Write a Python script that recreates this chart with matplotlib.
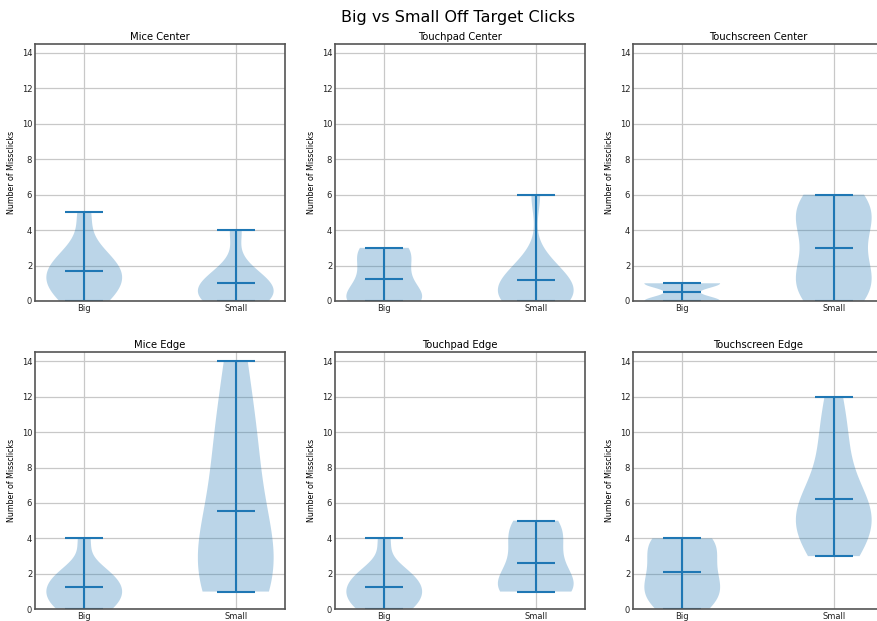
import matplotlib
matplotlib.use("Agg")
import matplotlib.pyplot as plt
import numpy as np

categories = ["Big", "Small"]
titles = ["Mice Center", "Touchpad Center", "Touchscreen Center",
          "Mice Edge", "Touchpad Edge", "Touchscreen Edge"]

mice_center_big = [0, 0, 1, 1, 1, 2, 2, 2, 3, 5]
mice_center_small = [0, 0, 0, 0, 1, 1, 1, 1, 2, 4]
touchpad_center_big = [0, 0, 0, 0, 0, 1, 1, 2, 2, 3, 3, 3]
touchpad_center_small = [0, 0, 0, 0, 0, 1, 1, 1, 1, 2, 2, 6]
touchscreen_center_big = [0] * 8 + [1] * 8
touchscreen_center_small = [0, 0, 1, 1, 2, 2, 4, 4, 5, 5, 6, 6]
mice_edge_big = [0, 0, 0, 1, 1, 1, 1, 2, 2, 2, 4]
mice_edge_small = [1, 1, 2, 3, 4, 6, 9, 10, 14]
touchpad_edge_big = [0, 0, 0, 1, 1, 1, 1, 2, 2, 2, 4]
touchpad_edge_small = [1, 1, 1, 1, 2, 2, 3, 4, 4, 5, 5]
touchscreen_edge_big = [0, 0, 1, 1, 1, 2, 2, 3, 3, 4, 4, 4]
touchscreen_edge_small = [3, 3, 4, 5, 5, 5, 6, 6, 7, 9, 10, 12]

groups = [
    (mice_center_big, mice_center_small),
    (touchpad_center_big, touchpad_center_small),
    (touchscreen_center_big, touchscreen_center_small),
    (mice_edge_big, mice_edge_small),
    (touchpad_edge_big, touchpad_edge_small),
    (touchscreen_edge_big, touchscreen_edge_small),
]

fig = plt.figure(figsize=(8.78, 6.21), dpi=100)
fig.suptitle("Big vs Small Off Target Clicks", fontsize=11.5, x=0.522, y=0.984)

lefts = [35 / 878, 335 / 878, 633 / 878]
bottoms = [1 - 301 / 621, 1 - 609.3 / 621]
w = 250 / 878
h = 257 / 621

for i, (data, title) in enumerate(zip(groups, titles)):
    r, c = divmod(i, 3)
    ax = fig.add_axes([lefts[c], bottoms[r], w, h])
    ax.set_axisbelow(True)
    ax.grid(True, color="#c8c8c8", linewidth=0.9)
    ax.violinplot(list(data), showmeans=True)
    ax.set_xticks([1, 2])
    ax.set_xticklabels(categories)
    ax.set_ylim(0, 14.5)
    ax.set_yticks(range(0, 15, 2))
    ax.tick_params(length=0, labelsize=6, pad=2, colors="#222222")
    ax.set_title(title, fontsize=7.2, pad=3)
    ax.set_ylabel("Number of Missclicks", fontsize=5.7, labelpad=4)
    for s in ax.spines.values():
        s.set_color("#555555")
        s.set_linewidth(1.2)
        s.set_zorder(5)

fig.savefig("out.png", dpi=100)
